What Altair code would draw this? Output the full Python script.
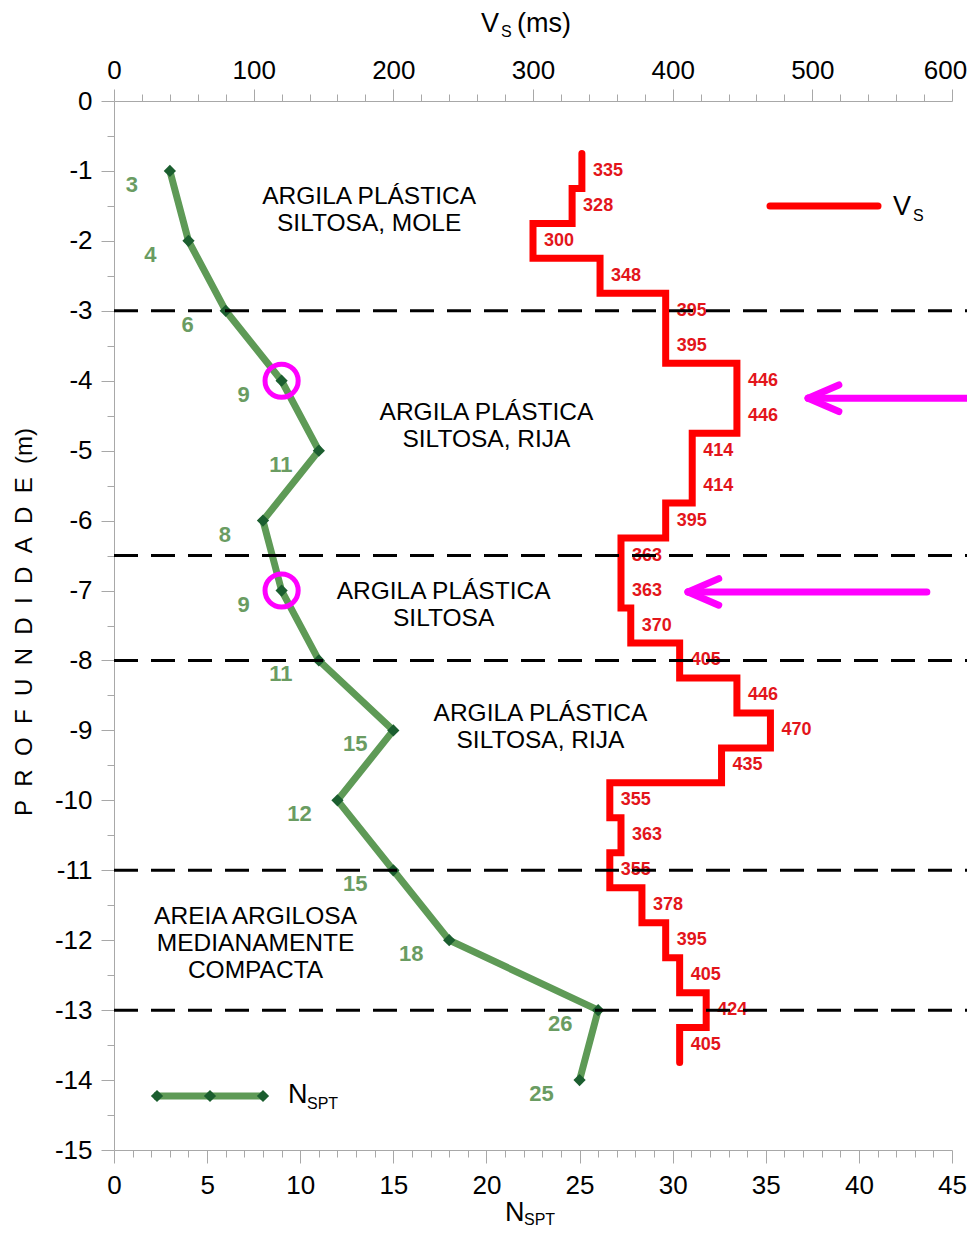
import altair as alt
import pandas as pd
import numpy as np

# ---------------- data ----------------
nspt_depth = [-1, -2, -3, -4, -5, -6, -7, -8, -9, -10, -11, -12, -13, -14]
nspt_value = [3, 4, 6, 9, 11, 8, 9, 11, 15, 12, 15, 18, 26, 25]

vs_top_depth = [-0.75, -1.25, -1.75, -2.25, -2.75, -3.25, -3.75, -4.25, -4.75,
                -5.25, -5.75, -6.25, -6.75, -7.25, -7.75, -8.25, -8.75, -9.25,
                -9.75, -10.25, -10.75, -11.25, -11.75, -12.25, -12.75, -13.25]
vs_value = [335, 328, 300, 348, 395, 395, 446, 446, 414, 414, 395, 363, 363,
            370, 405, 446, 470, 435, 355, 363, 355, 378, 395, 405, 424, 405]
vs_step = 0.5

boundary_depth = [-3, -6.5, -8, -11, -13]

highlight_depth = [-4, -7]
highlight_nspt = [9, 9]

arrow_depth = [-4.25, -7.02]
arrow_tip_vs = [497, 411]
arrow_tail_vs = [620, 582]

layer_names = ["ARGILA PLÁSTICA\nSILTOSA, MOLE",
               "ARGILA PLÁSTICA\nSILTOSA, RIJA",
               "ARGILA PLÁSTICA\nSILTOSA",
               "ARGILA PLÁSTICA\nSILTOSA, RIJA",
               "AREIA ARGILOSA\nMEDIANAMENTE\nCOMPACTA"]
layer_name_nspt = [13.7, 20.0, 17.7, 22.9, 7.6]
layer_name_depth = [-1.37, -4.46, -7.02, -8.77, -11.67]

# ---------------- style ----------------
FONT = "Liberation Sans, Arial, sans-serif"
GREEN = "#5e9a56"
DARK_GREEN = "#1b5e2f"
GREEN_TXT = "#6a9c62"
RED = "#ff0000"
RED_TXT = "#e3151b"
MAGENTA = "#ff00ff"
AXIS_GRAY = "#a8a8a8"
W, H = 838, 1049

# ---------------- tables ----------------
df_n = pd.DataFrame({"depth": nspt_depth, "nspt": nspt_value,
                     "idx": list(range(len(nspt_value)))})

rows = []
k = 0
for top, v in zip(vs_top_depth, vs_value):
    rows.append({"d": top, "vs": v, "k": k}); k += 1
    rows.append({"d": top - vs_step, "vs": v, "k": k}); k += 1
df_step = pd.DataFrame(rows)
df_vlab = pd.DataFrame({"d": [t - vs_step / 2 for t in vs_top_depth],
                        "vs": vs_value})
df_bound = pd.DataFrame({"d": boundary_depth})
df_hl = pd.DataFrame({"depth": highlight_depth, "nspt": highlight_nspt})
df_arrow = pd.DataFrame({"d": arrow_depth, "tip": arrow_tip_vs,
                         "tail": arrow_tail_vs})
df_names = pd.DataFrame({"name": layer_names, "nspt": layer_name_nspt,
                         "depth": layer_name_depth})
one = pd.DataFrame({"a": [0]})

# ---------------- scales / axes ----------------
yscale = alt.Scale(domain=[-15, 0], nice=False, zero=False)
yaxis = alt.Axis(
    values=[float(v) for v in np.arange(-15, 0.01, 0.5)],
    labelExpr="datum.value % 1 === 0 ? '' + datum.value : ''",
    tickSize={"condition": {"test": "datum.value % 1 === 0", "value": 13}, "value": 7},
    labelPadding=9, labelFont=FONT, labelFontSize=26, labelColor="black",
    domainColor=AXIS_GRAY, tickColor=AXIS_GRAY, grid=False, title=None,
    labelBound=False, labelFlush=False, labelOverlap=False)

nscale = alt.Scale(domain=[0, 45], nice=False, zero=True)
naxis = alt.Axis(
    orient="bottom", values=list(range(0, 46)),
    labelExpr="datum.value % 5 === 0 ? '' + datum.value : ''",
    tickSize={"condition": {"test": "datum.value % 5 === 0", "value": 13}, "value": 7},
    labelPadding=9, labelFont=FONT, labelFontSize=26, labelColor="black",
    domainColor=AXIS_GRAY, tickColor=AXIS_GRAY, grid=False, title=None,
    labelFlush=False, labelOverlap=False)

vscale = alt.Scale(domain=[0, 600], nice=False, zero=True)
vaxis = alt.Axis(
    orient="top", values=list(range(0, 601, 20)),
    labelExpr="datum.value % 100 === 0 ? '' + datum.value : ''",
    labelOffset={"condition": {"test": "datum.value === 600", "value": -7}, "value": 0},
    tickSize={"condition": {"test": "datum.value % 100 === 0", "value": 12}, "value": 7},
    labelPadding=6, labelFont=FONT, labelFontSize=26, labelColor="black",
    domainColor=AXIS_GRAY, tickColor=AXIS_GRAY, grid=False, title=None,
    labelFlush=False, labelOverlap=False)


def YD(f):
    return alt.Y(f"{f}:Q", scale=yscale, axis=yaxis)


def XN(f):
    return alt.X(f"{f}:Q", scale=nscale, axis=naxis)


def XV(f):
    return alt.X(f"{f}:Q", scale=vscale, axis=vaxis)


# ---------------- NSPT group ----------------
n_line = alt.Chart(df_n).mark_line(color=GREEN, strokeWidth=7).encode(
    x=XN("nspt"), y=YD("depth"), order=alt.Order("idx:Q"))
n_pts = alt.Chart(df_n).mark_point(shape="diamond", filled=True, size=150,
                                   color=DARK_GREEN, opacity=1).encode(
    x=XN("nspt"), y=YD("depth"))
n_lab = alt.Chart(df_n).mark_text(
    dx=-38, dy=14, font=FONT, fontSize=22, fontWeight="bold",
    color=GREEN_TXT).encode(x=XN("nspt"), y=YD("depth"), text="nspt:Q")
n_hl = alt.Chart(df_hl).mark_point(shape="circle", filled=False, size=1100,
                                   strokeWidth=5, color=MAGENTA, opacity=1).encode(
    x=XN("nspt"), y=YD("depth"))
names = alt.Chart(df_names).mark_text(
    font=FONT, fontSize=24.5, lineBreak="\n", lineHeight=27, align="center",
    baseline="middle", color="black").encode(
    x=XN("nspt"), y=YD("depth"), text="name:N")

n_group = alt.layer(n_line, names, n_lab, n_pts, n_hl)

# ---------------- Vs group ----------------
v_line = alt.Chart(df_step).mark_line(color=RED, strokeWidth=7, strokeCap="round",
                                      strokeJoin="miter").encode(
    x=XV("vs"), y=YD("d"), order=alt.Order("k:Q"))
v_lab = alt.Chart(df_vlab).mark_text(
    align="left", baseline="middle", dx=11, font=FONT, fontSize=18,
    fontWeight="bold", color=RED_TXT).encode(x=XV("vs"), y=YD("d"), text="vs:Q")
bounds = alt.Chart(df_bound).mark_rule(color="black", strokeWidth=3,
                                       strokeDash=[24, 13]).encode(
    y=YD("d"), x=alt.value(0), x2=alt.value(W + 20))
a_shaft = alt.Chart(df_arrow).mark_rule(color=MAGENTA, strokeWidth=7,
                                        strokeCap="round").encode(
    x=XV("tip"), x2="tail:Q", y=YD("d"))
a_head1 = alt.Chart(df_arrow).transform_calculate(
    hx="datum.tip + 22", hy="datum.d + 0.19").mark_rule(
    color=MAGENTA, strokeWidth=7, strokeCap="round").encode(
    x=XV("tip"), x2="hx:Q", y=YD("d"), y2="hy:Q")
a_head2 = alt.Chart(df_arrow).transform_calculate(
    hx="datum.tip + 22", hy="datum.d - 0.19").mark_rule(
    color=MAGENTA, strokeWidth=7, strokeCap="round").encode(
    x=XV("tip"), x2="hx:Q", y=YD("d"), y2="hy:Q")

v_group = alt.layer(v_line, v_lab, bounds, a_shaft, a_head1, a_head2)

# ---------------- titles & legends ----------------
def txt(s, x, y, size, align="left"):
    return alt.Chart(one).mark_text(
        text=s, font=FONT, fontSize=size, align=align, baseline="middle",
        color="black").encode(x=alt.value(x), y=alt.value(y))


deco = [
    # top axis title
    txt("V", 367, -77, 27), txt("S", 387, -69, 16), txt("(ms)", 403, -77, 27),
    # bottom axis title
    txt("N", 391, 1112, 27), txt("SPT", 410, 1119, 16),
    # y title
    alt.Chart(one).mark_text(
        text="P\u00a0\u00a0R\u00a0\u00a0O\u00a0\u00a0F\u00a0\u00a0U\u00a0\u00a0N\u00a0\u00a0D\u00a0\u00a0I\u00a0\u00a0D\u00a0\u00a0A\u00a0\u00a0D\u00a0\u00a0E\u00a0\u00a0(m)",
        font=FONT, fontSize=24, angle=270, align="center", baseline="middle",
        color="black").encode(x=alt.value(-89), y=alt.value(521)),
    # Vs legend
    alt.Chart(one).mark_rule(color=RED, strokeWidth=7, strokeCap="round").encode(
        x=alt.value(656), x2=alt.value(764), y=alt.value(105)),
    txt("V", 779, 106, 27), txt("S", 799, 115, 16),
    # NSPT legend
    alt.Chart(one).mark_rule(color=GREEN, strokeWidth=7).encode(
        x=alt.value(40), x2=alt.value(149), y=alt.value(995)),
    alt.Chart(one).mark_point(shape="diamond", filled=True, size=150,
                              color=DARK_GREEN, opacity=1).encode(
        x=alt.value(43), y=alt.value(995)),
    alt.Chart(one).mark_point(shape="diamond", filled=True, size=150,
                              color=DARK_GREEN, opacity=1).encode(
        x=alt.value(96), y=alt.value(995)),
    alt.Chart(one).mark_point(shape="diamond", filled=True, size=150,
                              color=DARK_GREEN, opacity=1).encode(
        x=alt.value(149), y=alt.value(995)),
    txt("N", 174, 994, 27), txt("SPT", 193, 1003, 16),
]

chart = alt.layer(n_group, v_group, *deco).resolve_scale(
    x="independent").properties(
    width=W, height=H,
    padding={"left": 106, "top": 93, "right": 15, "bottom": 80},
    autosize=alt.AutoSizeParams(type="none"),
).configure_view(stroke=None)

chart.save("out.html", embed_options={"renderer": "svg", "actions": False})
